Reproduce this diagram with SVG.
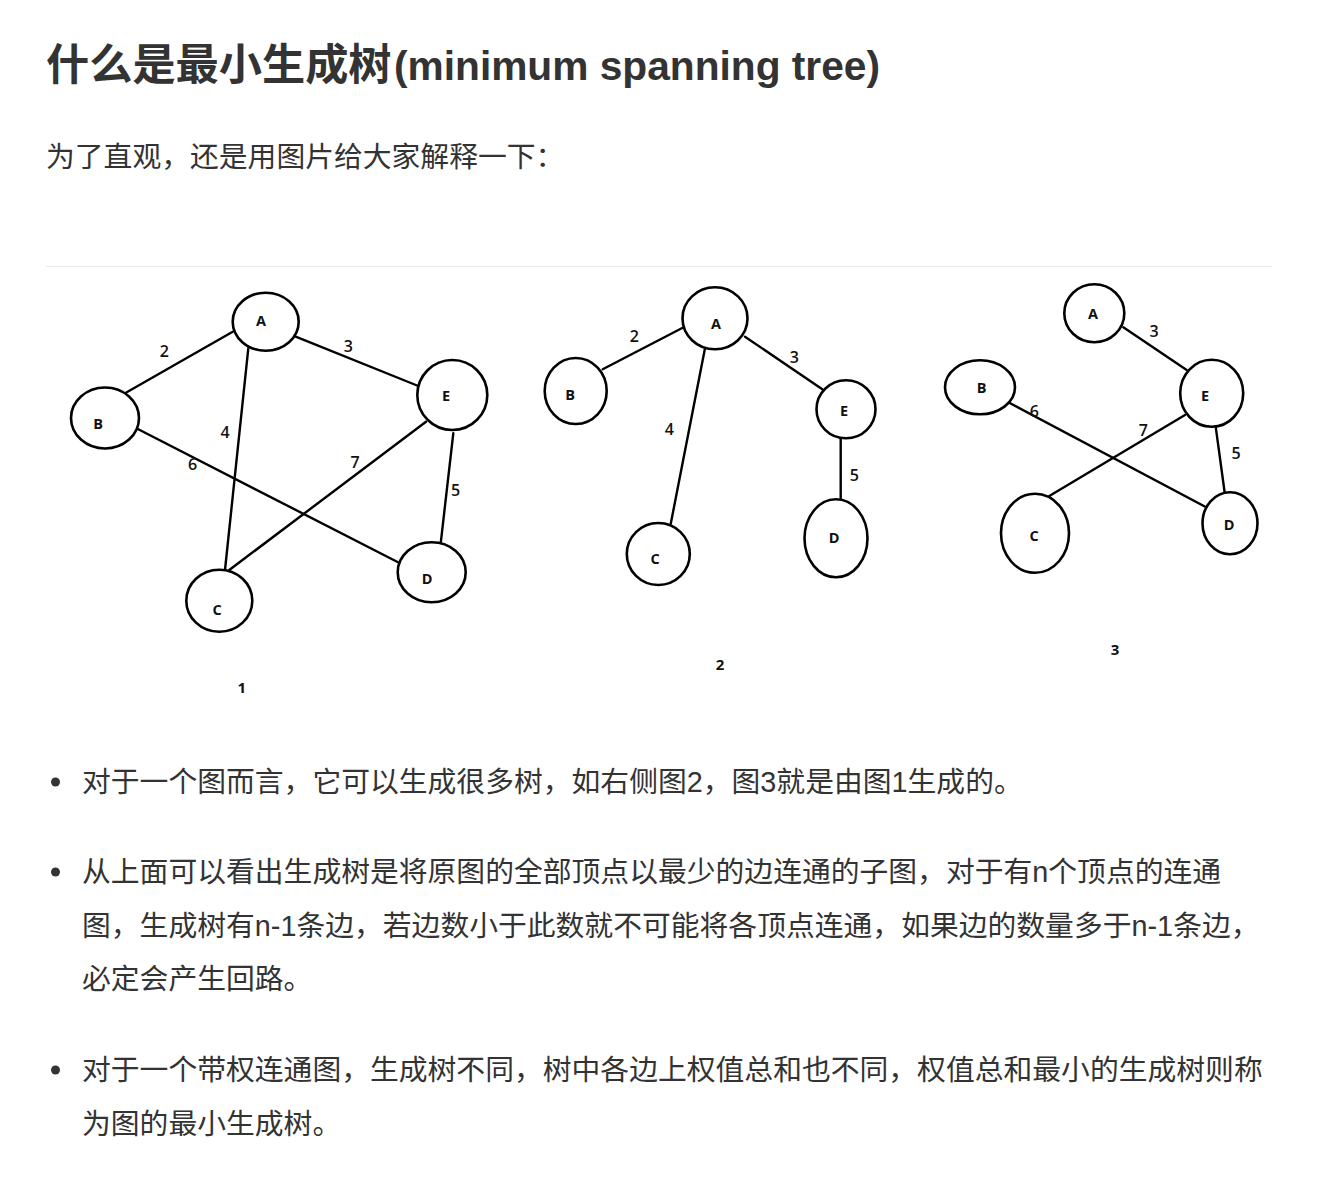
<svg xmlns="http://www.w3.org/2000/svg" width="1324" height="1180" viewBox="0 0 1324 1180">
<style>
.h{font-family:"Liberation Sans","Noto Sans CJK SC",sans-serif;font-weight:bold;fill:#333;}
.t{font-family:"Liberation Sans","Noto Sans CJK SC",sans-serif;font-size:28.8px;fill:#333;}
.node ellipse{fill:#fff;stroke:#000;stroke-width:2.6;}
.node text{font-family:"Open Sans","DejaVu Sans",sans-serif;font-weight:bold;font-size:14.5px;fill:#111;text-anchor:middle;}
.edges line{stroke:#000;stroke-width:2.4;stroke-linecap:round;}
.w{font-family:"Open Sans","DejaVu Sans",sans-serif;font-weight:600;font-size:16px;fill:#111;text-anchor:middle;}
.cap{font-family:"Open Sans","DejaVu Sans",sans-serif;font-weight:bold;font-size:15px;fill:#111;text-anchor:middle;}
</style>
<rect width="1324" height="1180" fill="#fff"/>
<text class="h" x="46" y="80" font-size="43.2px">什么是最小生成树</text>
<text class="h" x="394" y="80" font-size="40px" textLength="486" lengthAdjust="spacingAndGlyphs">(minimum spanning tree)</text>
<text class="t" x="46" y="167">为了直观，还是用图片给大家解释一下：</text>
<line x1="46" y1="266.5" x2="1272" y2="266.5" stroke="#eaeaea" stroke-width="1"/>

<!-- Graph 1 -->
<g id="graph1">
<g class="edges" id="g1-edges">
<line x1="232.7" y1="331.7" x2="125" y2="393.3"/>
<line x1="295.7" y1="336.7" x2="418.3" y2="386"/>
<line x1="248.3" y1="348.3" x2="225" y2="570"/>
<line x1="138.3" y1="429.3" x2="400" y2="563.3"/>
<line x1="426" y1="421.7" x2="229.3" y2="570"/>
<line x1="453.3" y1="433.3" x2="440.7" y2="543.3"/>
<text class="w" x="164.3" y="356.5">2</text>
<text class="w" x="348.3" y="352">3</text>
<text class="w" x="225" y="438">4</text>
<text class="w" x="192.7" y="469.5">6</text>
<text class="w" x="355" y="468">7</text>
<text class="w" x="455.7" y="496">5</text>
</g>
<g class="node" id="g1-A"><ellipse cx="265.7" cy="321.7" rx="33" ry="29"/><text x="261" y="326">A</text></g>
<g class="node" id="g1-B"><ellipse cx="105" cy="418" rx="34" ry="30.5"/><text x="98" y="429">B</text></g>
<g class="node" id="g1-E"><ellipse cx="452.3" cy="395" rx="35" ry="35"/><text x="446" y="401">E</text></g>
<g class="node" id="g1-D"><ellipse cx="431.7" cy="572.3" rx="34" ry="30"/><text x="427" y="584">D</text></g>
<g class="node" id="g1-C"><ellipse cx="219.3" cy="600.7" rx="33" ry="31"/><text x="217" y="615">C</text></g>
<text class="cap" x="241.7" y="692.5">1</text>
</g>

<!-- Graph 2 -->
<g id="graph2">
<g class="edges" id="g2-edges">
<line x1="682.7" y1="327.7" x2="602.7" y2="369.3"/>
<line x1="745" y1="336.7" x2="822.3" y2="389.3"/>
<line x1="705" y1="348.3" x2="670.7" y2="524"/>
<line x1="840.7" y1="439.3" x2="840.7" y2="500"/>
<text class="w" x="634.3" y="341.5">2</text>
<text class="w" x="794.3" y="363">3</text>
<text class="w" x="669.3" y="434.5">4</text>
<text class="w" x="854.3" y="480.5">5</text>
</g>
<g class="node" id="g2-A"><ellipse cx="715" cy="318.3" rx="32.5" ry="31"/><text x="716" y="329">A</text></g>
<g class="node" id="g2-B"><ellipse cx="575.7" cy="391" rx="31" ry="33"/><text x="570" y="400">B</text></g>
<g class="node" id="g2-E"><ellipse cx="846" cy="409.3" rx="29.5" ry="29"/><text x="844" y="416">E</text></g>
<g class="node" id="g2-D"><ellipse cx="836" cy="538.3" rx="31.5" ry="39"/><text x="834" y="543">D</text></g>
<g class="node" id="g2-C"><ellipse cx="658.3" cy="554" rx="31.5" ry="31"/><text x="655" y="564">C</text></g>
<text class="cap" x="720" y="670">2</text>
</g>

<!-- Graph 3 -->
<g id="graph3">
<g class="edges" id="g3-edges">
<line x1="1123.3" y1="327.3" x2="1186.7" y2="370"/>
<line x1="1007.3" y1="401.7" x2="1213.3" y2="511"/>
<line x1="1185" y1="415" x2="1049.3" y2="496"/>
<line x1="1215" y1="421.7" x2="1225" y2="495"/>
<text class="w" x="1154" y="337">3</text>
<text class="w" x="1034.3" y="417">6</text>
<text class="w" x="1143.3" y="436">7</text>
<text class="w" x="1236" y="458.5">5</text>
</g>
<g class="node" id="g3-A"><ellipse cx="1094.3" cy="313.3" rx="30" ry="29"/><text x="1093" y="319">A</text></g>
<g class="node" id="g3-B"><ellipse cx="980" cy="387.3" rx="35" ry="27"/><text x="981.5" y="393">B</text></g>
<g class="node" id="g3-E"><ellipse cx="1211.7" cy="393.3" rx="31.5" ry="33.5"/><text x="1205" y="401">E</text></g>
<g class="node" id="g3-C"><ellipse cx="1035" cy="533.3" rx="34" ry="39.5"/><text x="1034" y="541">C</text></g>
<g class="node" id="g3-D"><ellipse cx="1230" cy="523.3" rx="27.5" ry="31"/><text x="1229" y="530">D</text></g>
<text class="cap" x="1115" y="654.5">3</text>
</g>

<!-- Bullets -->
<g id="bullets">
<circle cx="55.5" cy="782" r="4.5" fill="#333"/>
<text class="t" x="82" y="792">对于一个图而言，它可以生成很多树，如右侧图2，图3就是由图1生成的。</text>
<circle cx="55.5" cy="872" r="4.5" fill="#333"/>
<text class="t" x="82" y="882">从上面可以看出生成树是将原图的全部顶点以最少的边连通的子图，对于有n个顶点的连通</text>
<text class="t" x="82" y="936">图，生成树有n-1条边，若边数小于此数就不可能将各顶点连通，如果边的数量多于n-1条边，</text>
<text class="t" x="82" y="989">必定会产生回路。</text>
<circle cx="55.5" cy="1070" r="4.5" fill="#333"/>
<text class="t" x="82" y="1080">对于一个带权连通图，生成树不同，树中各边上权值总和也不同，权值总和最小的生成树则称</text>
<text class="t" x="82" y="1134">为图的最小生成树。</text>
</g>
</svg>
